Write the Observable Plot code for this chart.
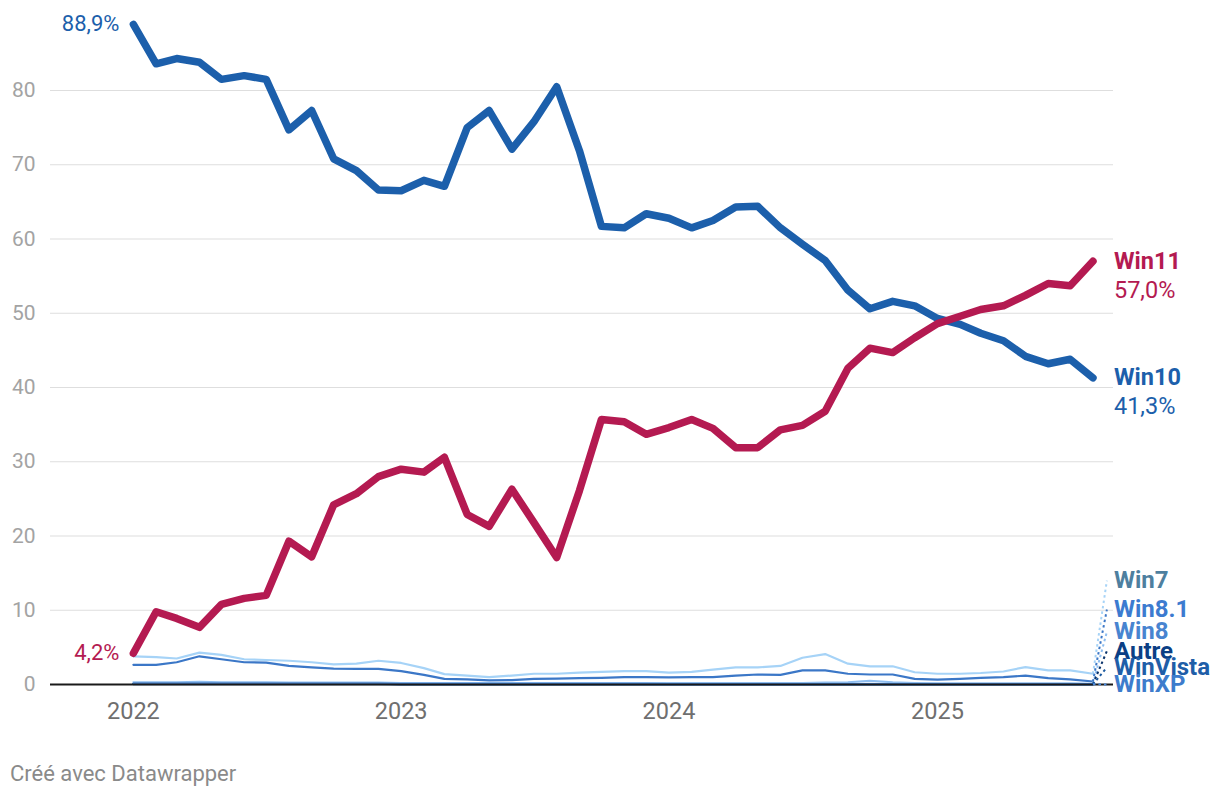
<!DOCTYPE html>
<html>
<head>
<meta charset="utf-8">
<script src="https://cdn.jsdelivr.net/npm/d3@7"></script>
<script src="https://cdn.jsdelivr.net/npm/@observablehq/plot@0.6"></script>
<style>
  body { margin: 0; background: #fff; font-family: Roboto, sans-serif; }
  #chart svg { display: block; }
  #caption { font-family: Roboto, sans-serif; font-size: 22px; color: #8a8a8a; padding-left: 10px; margin-top: 31px; }
</style>
</head>
<body>
<div id="chart"></div>
<div id="caption">Créé avec Datawrapper</div>
<script>
const months = [
  "2022-01","2022-02","2022-03","2022-04","2022-05","2022-06","2022-07","2022-08","2022-09","2022-10","2022-11","2022-12",
  "2023-01","2023-02","2023-03","2023-04","2023-05","2023-06","2023-07","2023-08","2023-09","2023-10","2023-11","2023-12",
  "2024-01","2024-02","2024-03","2024-04","2024-05","2024-06","2024-07","2024-08","2024-09","2024-10","2024-11","2024-12",
  "2025-01","2025-02","2025-03","2025-04","2025-05","2025-06","2025-07","2025-08"
];
const win10 = [88.9,83.6,84.3,83.8,81.5,82.0,81.5,74.7,77.3,70.8,69.2,66.6,
  66.5,67.9,67.1,75.0,77.3,72.1,75.8,80.5,71.9,61.7,61.5,63.4,
  62.8,61.5,62.5,64.3,64.4,61.5,59.3,57.1,53.1,50.6,51.6,51.0,
  49.3,48.5,47.3,46.3,44.2,43.2,43.8,41.3];
const win11 = [4.2,9.8,8.9,7.7,10.8,11.6,12.0,19.3,17.2,24.2,25.7,28.0,
  29.0,28.6,30.6,22.9,21.3,26.3,21.8,17.1,26.1,35.7,35.4,33.7,
  34.6,35.7,34.5,31.9,31.9,34.3,34.9,36.8,42.6,45.3,44.7,46.7,
  48.6,49.6,50.5,51.0,52.4,54.0,53.7,57.0];
const win7 = [3.8,3.7,3.5,4.3,4.0,3.4,3.3,3.2,3.0,2.7,2.8,3.2,
  2.9,2.2,1.4,1.2,1.0,1.2,1.45,1.45,1.6,1.7,1.8,1.8,
  1.6,1.7,2.0,2.3,2.3,2.5,3.6,4.1,2.8,2.45,2.45,1.65,
  1.45,1.45,1.55,1.75,2.35,1.9,1.9,1.45];
const win81 = [2.65,2.65,3.0,3.8,3.4,3.0,2.95,2.5,2.3,2.15,2.1,2.1,
  1.8,1.3,0.75,0.7,0.55,0.6,0.75,0.8,0.85,0.9,1.0,1.0,
  0.95,1.0,1.0,1.2,1.35,1.3,1.9,1.9,1.45,1.35,1.35,0.75,
  0.65,0.75,0.9,1.0,1.2,0.85,0.7,0.4];
const win8 = [0.3,0.3,0.3,0.35,0.3,0.3,0.3,0.25,0.25,0.25,0.25,0.25,
  0.2,0.2,0.2,0.2,0.2,0.2,0.2,0.2,0.2,0.2,0.2,0.2,
  0.2,0.2,0.2,0.2,0.2,0.2,0.2,0.25,0.3,0.5,0.3,0.2,
  0.15,0.15,0.15,0.15,0.15,0.15,0.15,0.1];
const autre = [0.1,0.1,0.1,0.1,0.1,0.1,0.1,0.1,0.1,0.1,0.1,0.1,
  0.05,0.05,0.05,0.05,0.05,0.05,0.05,0.05,0.05,0.05,0.05,0.05,
  0.05,0.05,0.05,0.05,0.05,0.05,0.05,0.05,0.05,0.05,0.05,0.05,
  0.05,0.05,0.05,0.05,0.05,0.05,0.05,0.05];
const winVista = [0.05,0.05,0.05,0.05,0.05,0.05,0.05,0.05,0.05,0.05,0.05,0.05,
  0.03,0.03,0.03,0.03,0.03,0.03,0.03,0.03,0.03,0.03,0.03,0.03,
  0.02,0.02,0.02,0.02,0.02,0.02,0.02,0.02,0.02,0.02,0.02,0.02,
  0.02,0.02,0.02,0.02,0.02,0.02,0.02,0.02];
const winXP = [0.1,0.1,0.1,0.1,0.1,0.1,0.1,0.1,0.1,0.1,0.1,0.1,
  0.08,0.08,0.08,0.08,0.08,0.08,0.08,0.08,0.08,0.08,0.08,0.08,
  0.06,0.06,0.06,0.06,0.06,0.06,0.06,0.06,0.06,0.06,0.06,0.06,
  0.05,0.05,0.05,0.05,0.05,0.05,0.05,0.05];
const yTicks = [0,10,20,30,40,50,60,70,80];
const xTicks = ["2022-01","2023-01","2024-01","2025-01"];

// small series: name, values, line colour, label colour, label position (in % units)
const smallSeries = [
  {name: "Win7", values: win7, color: "#a6d3f7", label: "#4e7f9f", labelY: 14.0},
  {name: "Win8.1", values: win81, color: "#3b77c7", label: "#3c7bd0", labelY: 10.1},
  {name: "Win8", values: win8, color: "#8dbdf0", label: "#4884d0", labelY: 7.1},
  {name: "Autre", values: autre, color: "#08326b", label: "#0b3f85", labelY: 4.5},
  {name: "WinVista", values: winVista, color: "#1c5aa0", label: "#1f5ea8", labelY: 2.3},
  {name: "WinXP", values: winXP, color: "#4a88d8", label: "#3d7ccc", labelY: 0}
];
const bigSeries = [
  {name: "Win10", values: win10, color: "#1c5fab"},
  {name: "Win11", values: win11, color: "#b41a51"}
];

const parse = d3.utcParse("%Y-%m");
const dates = months.map(parse);
const lastDate = dates[dates.length - 1];
const connectorEnd = new Date(lastDate.getTime() + 19 * 864e5);
const fmt = v => v.toFixed(1).replace(".", ",") + "%";

const rows = s => s.values.map((v, i) => ({date: dates[i], value: v, name: s.name}));

const marks = [
  Plot.gridY(yTicks.filter(d => d > 0), {stroke: "#dedede", strokeOpacity: 1, strokeWidth: 1.2}),
  Plot.axisY(yTicks, {tickSize: 0, tickPadding: 15, fontSize: 21, fill: "#a3a3a3", label: null}),
  Plot.axisX(xTicks.map(parse), {tickSize: 0, tickPadding: 18, fontSize: 23.5, fill: "#6f6f6f", tickFormat: d3.utcFormat("%Y"), label: null})
];
for (const s of smallSeries) {
  marks.push(Plot.lineY(rows(s), {x: "date", y: "value", stroke: s.color, strokeWidth: 2.2}));
}
marks.push(Plot.ruleY([0], {stroke: "#1a1a1a", strokeWidth: 2}));
for (const s of smallSeries) {
  const last = s.values[s.values.length - 1];
  marks.push(Plot.link([s], {x1: () => lastDate, y1: () => last, x2: () => connectorEnd, y2: d => d.labelY,
    stroke: s.color, strokeWidth: 2, strokeDasharray: "2.5,3"}));
  marks.push(Plot.text([s], {x: () => lastDate, y: d => d.labelY, text: d => d.name, dx: 21,
    textAnchor: "start", fill: s.label, fontSize: 24, fontWeight: "bold"}));
}
for (const s of bigSeries) {
  marks.push(Plot.lineY(rows(s), {x: "date", y: "value", stroke: s.color, strokeWidth: 7.5, strokeLinejoin: "round", strokeLinecap: "round"}));
  const first = s.values[0], last = s.values[s.values.length - 1];
  marks.push(Plot.text([s], {x: () => dates[0], y: () => first, text: () => fmt(first), dx: -14, textAnchor: "end", fill: s.color, fontSize: 22}));
  marks.push(Plot.text([s], {x: () => lastDate, y: () => last, text: d => d.name, dx: 21, textAnchor: "start", fill: s.color, fontSize: 23.5, fontWeight: "bold"}));
  marks.push(Plot.text([s], {x: () => lastDate, y: () => last, text: () => fmt(last), dx: 21, dy: 29, textAnchor: "start", fill: s.color, fontSize: 23.5}));
}

const chart = Plot.plot({
  width: 1220,
  height: 730,
  marginLeft: 50,
  marginRight: 107,
  marginTop: 15.75,
  marginBottom: 46,
  style: {fontFamily: "Roboto, sans-serif", background: "#fff", overflow: "visible"},
  x: {type: "utc", domain: [new Date(Date.UTC(2021, 8, 10)), new Date(Date.UTC(2025, 7, 29))]},
  y: {domain: [0, 90]},
  marks
});
document.getElementById("chart").appendChild(chart);
</script>
</body>
</html>
